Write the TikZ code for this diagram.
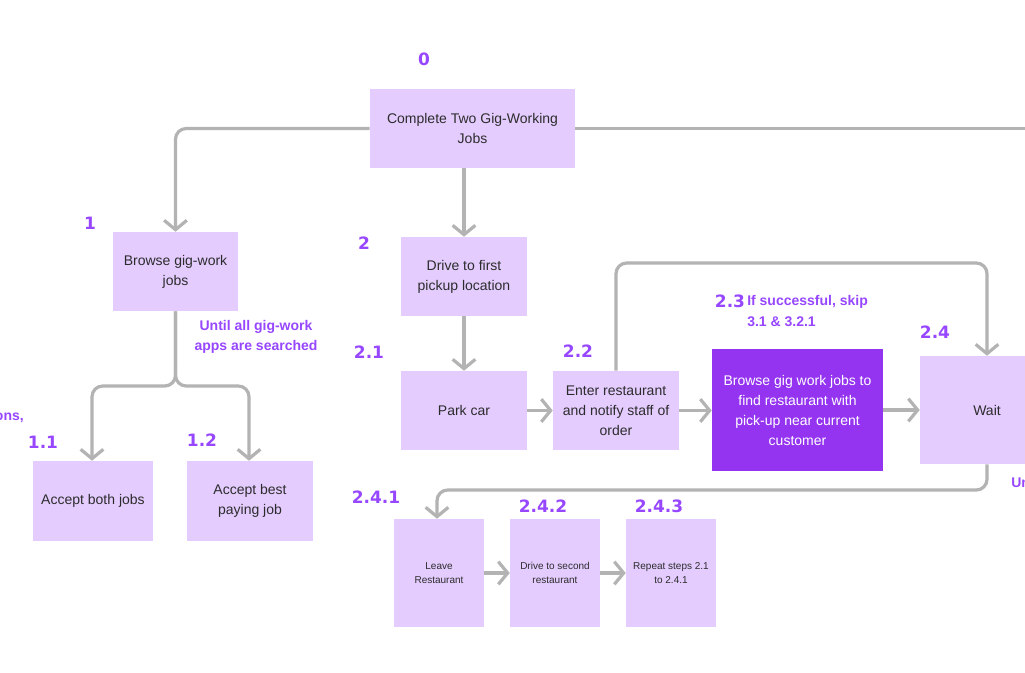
\documentclass[tikz,border=0pt]{standalone}
\usepackage{fontspec}
\setmainfont{Liberation Sans}
\newfontfamily\numfont{DejaVu Sans}
\usetikzlibrary{arrows.meta}
\definecolor{boxfill}{HTML}{E4CCFF}
\definecolor{darkbox}{HTML}{9534F0}
\definecolor{lbl}{HTML}{9747FF}
\definecolor{conncol}{HTML}{B3B3B3}
\definecolor{txt}{HTML}{2C2C2C}
\tikzset{
  box/.style={fill=boxfill, inner sep=0pt, align=center, text=txt, font=\fontsize{10.5}{15}\selectfont},
  smallbox/.style={box, font=\fontsize{7.5}{10.5}\selectfont},
  darkstep/.style={fill=darkbox, inner sep=0pt, align=center, text=white, font=\fontsize{10.5}{15}\selectfont},
  num/.style={text=lbl, inner sep=0pt, font=\numfont\bfseries\fontsize{12.75}{15}\selectfont},
  note/.style={text=lbl, inner sep=0pt, align=center, font=\bfseries\fontsize{10.5}{15}\selectfont},
  line/.style={draw=conncol, line width=2.4pt, rounded corners=8pt},
  conn/.style={line, -{Straight Barb[length=7pt,width=17pt,line width=2.4pt]}},
}
\begin{document}
\begin{tikzpicture}[x=0.75pt,y=-0.75pt]
\path[use as bounding box] (0,0) rectangle (1025,672);
\clip (0,0) rectangle (1025,672);
\fill[white] (0,0) rectangle (1025,672);

% boxes
\node[box, minimum width=205*0.75pt, minimum height=79*0.75pt] (n0) at (472.5,128.5) {Complete Two Gig-Working\\Jobs};
\node[box, minimum width=125*0.75pt, minimum height=79*0.75pt] (n1) at (175.5,271.5) {Browse gig-work\\jobs};
\node[box, minimum width=126*0.75pt, minimum height=79*0.75pt] (n2) at (464,276.5) {Drive to first\\pickup location};
\node[box, minimum width=126*0.75pt, minimum height=79*0.75pt] (n21) at (464,410.5) {Park car};
\node[box, minimum width=126*0.75pt, minimum height=79*0.75pt] (n22) at (616,410.5) {Enter restaurant\\and notify staff of\\order};
\node[darkstep, minimum width=171*0.75pt, minimum height=122*0.75pt] (n23) at (797.5,410) {Browse gig work jobs to\\find restaurant with\\pick-up near current\\customer};
\node[box, minimum width=134*0.75pt, minimum height=108*0.75pt] (n24) at (987,410) {Wait};
\node[box, minimum width=120*0.75pt, minimum height=80*0.75pt] (n11) at (93,501) {Accept both jobs};
\node[box, minimum width=126*0.75pt, minimum height=80*0.75pt] (n12) at (250,501) {Accept best\\paying job};
\node[smallbox, minimum width=90*0.75pt, minimum height=108*0.75pt] (n241) at (439,573) {Leave\\Restaurant};
\node[smallbox, minimum width=90*0.75pt, minimum height=108*0.75pt] (n242) at (555,573) {Drive to second\\restaurant};
\node[smallbox, minimum width=90*0.75pt, minimum height=108*0.75pt] (n243) at (671,573) {Repeat steps 2.1\\to 2.4.1};

% labels
\node[num] (l0) at (424,59) {0};
\node[num] (l1) at (90,223) {1};
\node[num] (l2) at (364,243) {2};
\node[num] (l21) at (369,352) {2.1};
\node[num] (l22) at (578,351) {2.2};
\node[num] (l23) at (730,301) {2.3};
\node[note, anchor=west, align=left, font=\bfseries\fontsize{10.5}{15.75}\selectfont] (n23note) at (747,310.5) {If successful, skip\\3.1 \& 3.2.1};
\node[num] (l24) at (935,332) {2.4};
\node[num] (l11) at (43,442) {1.1};
\node[num] (l12) at (202,440) {1.2};
\node[num] (l241) at (376,497) {2.4.1};
\node[num] (l242) at (543,506) {2.4.2};
\node[num] (l243) at (659,506) {2.4.3};
\node[note] (until) at (256,337) {Until all gig-work\\apps are searched};
\node[note, anchor=east] (ons) at (24,418) {ons,};
\node[note, anchor=west] (un) at (1011,482) {Until};

% connectors
\coordinate (rightend) at (1040,128.5);
\draw[conn] (n0.west) -| (n1.north);
\draw[line] (n0.east) -- (rightend);
\draw[conn] (n0.south -| n2.north) -- (n2.north);
\draw[conn] (n2.south) -- (n21.north);
\coordinate (split) at (175.5,386);
\draw[conn] (n1.south) -- (split) -| ([xshift=-0.75pt]n11.north);
\draw[conn] (n1.south) -- (split) -| ([xshift=-0.75pt]n12.north);
\draw[conn] (n21.east) -- (n22.west);
\draw[conn] (n22.east) -- (n23.west |- n22.east);
\draw[conn] (n23.east) -- (n24.west);
\coordinate (top22) at (616,263);
\draw[conn] (n22.north) -- (top22) -| (n24.north);
\coordinate (bot24) at (987,490);
\draw[conn] (n24.south) -- (bot24) -| ([xshift=-1.5pt]n241.north);
\draw[conn] (n241.east) -- (n242.west);
\draw[conn] (n242.east) -- (n243.west);
\end{tikzpicture}
\end{document}
